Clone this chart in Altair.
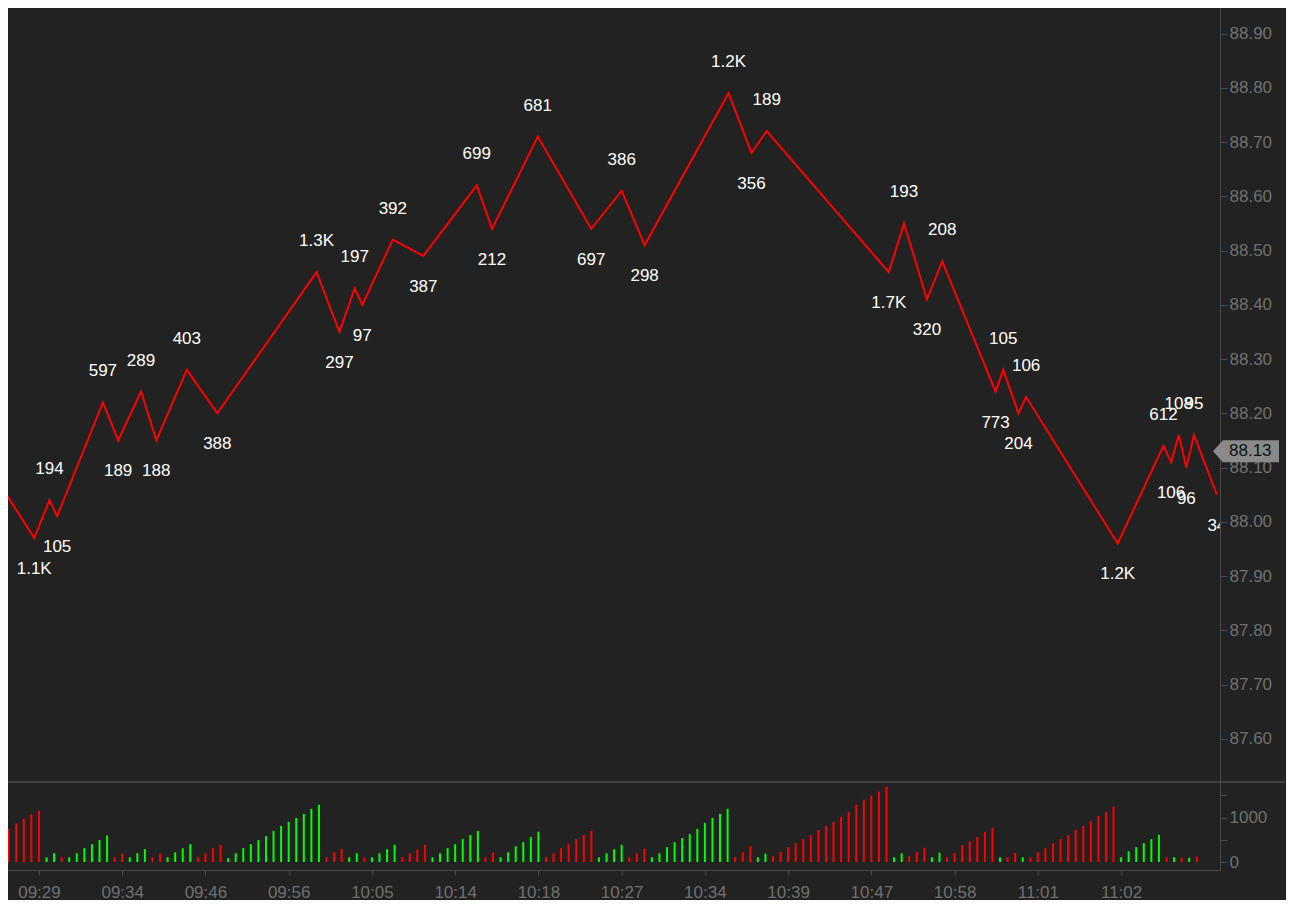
import altair as alt
import pandas as pd

# time labels under the volume panel, and the bar each one sits under
times = ['09:29', '09:34', '09:46', '09:56', '10:05', '10:14', '10:18',
         '10:27', '10:34', '10:39', '10:47', '10:58', '11:01', '11:02']
time_bars = [4, 15, 26, 37, 48, 59, 70, 81, 92, 103, 114, 125, 136, 147]

# zigzag: the line comes in from the left, then turns at these bars
start_bar = -1
start_price = 88.08
pivot_bar = [4, 6, 7, 13, 15, 18, 20, 24, 28, 41, 44, 46, 47, 51, 55, 62, 64,
             70, 77, 81, 84, 95, 98, 100, 116, 118, 121, 123, 130, 131, 133,
             134, 146, 152, 153, 154, 155, 156, 159]
pivot_price = [87.97, 88.04, 88.01, 88.22, 88.15, 88.24, 88.15, 88.28, 88.20,
               88.46, 88.35, 88.43, 88.40, 88.52, 88.49, 88.62, 88.54, 88.71,
               88.54, 88.61, 88.51, 88.79, 88.68, 88.72, 88.46, 88.55, 88.41,
               88.48, 88.24, 88.28, 88.20, 88.23, 87.96, 88.14, 88.11, 88.16,
               88.10, 88.16, 88.05]
pivot_label = ['1.1K', '194', '105', '597', '189', '289', '188', '403', '388',
               '1.3K', '297', '197', '97', '392', '387', '699', '212', '681',
               '697', '386', '298', '1.2K', '356', '189', '1.7K', '193', '320',
               '208', '773', '105', '204', '106', '1.2K', '612', '106', '108',
               '96', '95', '34']

# volume bars: running volume of the swing each bar belongs to
volume = [743, 864, 970, 1068, 1152,
          106, 197,
          105,
          106, 197, 311, 402, 492, 597,
          106, 189,
          106, 197, 289,
          106, 188,
          106, 220, 311, 403,
          106, 197, 311, 388,
          83, 197, 311, 402, 492, 583, 697, 811, 902, 992, 1083, 1197, 1288,
          106, 220, 297,
          106, 197,
          97,
          106, 197, 288, 392,
          106, 197, 288, 387,
          106, 197, 311, 402, 515, 606, 699,
          106, 212,
          106, 220, 356, 447, 561, 681,
          106, 197, 311, 402, 515, 606, 697,
          106, 197, 288, 386,
          106, 197, 298,
          106, 197, 333, 447, 538, 629, 742, 879, 992, 1083, 1197,
          106, 220, 356,
          106, 189,
          129, 220, 333, 424, 515, 606, 720, 811, 902, 1015, 1129, 1288, 1402,
          1492, 1583, 1697,
          106, 193,
          129, 220, 320,
          106, 208,
          106, 197, 379, 470, 561, 674, 773,
          105,
          106, 204,
          106,
          106, 220, 311, 424, 515, 606, 720, 811, 924, 1038, 1129, 1242,
          106, 242, 333, 424, 515, 612,
          106,
          108,
          96,
          95,
          125]

price_ticks = [87.60, 87.70, 87.80, 87.90, 88.00, 88.10, 88.20, 88.30, 88.40,
               88.50, 88.60, 88.70, 88.80, 88.90]
volume_ticks = [0, 500, 1000, 1500]
last_price = 88.13

# build tables
line_df = pd.DataFrame({'i': [start_bar] + pivot_bar,
                        'price': [start_price] + pivot_price})
kinds = []
prev = start_price
for p in pivot_price:
    kinds.append('peak' if p > prev else 'trough')
    prev = p
lab_df = pd.DataFrame({'i': pivot_bar, 'price': pivot_price,
                       'label': pivot_label, 'kind': kinds})

dirs = []
for i in range(len(volume)):
    k = next(n for n, b in enumerate(pivot_bar) if b >= i)
    dirs.append('up' if kinds[k] == 'peak' else 'down')
bar_df = pd.DataFrame({'i': list(range(len(volume))), 'vol': volume, 'dir': dirs})

FONT = 'Liberation Sans'
GRID = '#4a4a4a'
LABEL = '#707070'
W = 1219

xscale = alt.Scale(domain=[-0.354, 159.41], nice=False, zero=False)
pscale = alt.Scale(domain=[87.5203, 88.9618], nice=False, zero=False)
vscale = alt.Scale(domain=[-180, 1800], nice=False, zero=False)

right_axis = dict(orient='right', domainColor=GRID, tickColor=GRID, tickSize=7,
                  labelColor=LABEL, labelFontSize=17, labelFont=FONT,
                  labelPadding=2, grid=False, labelOverlap=False)

# price panel
line = alt.Chart(line_df).mark_line(color='#ff0000', strokeWidth=2, clip=True).encode(
    x=alt.X('i:Q', scale=xscale, axis=None),
    y=alt.Y('price:Q', scale=pscale, title='',
            axis=alt.Axis(values=price_ticks, format='.2f', **right_axis))
)
peaks = alt.Chart(lab_df).transform_filter("datum.kind == 'peak'").mark_text(
    dy=-31, color='white', fontSize=17, font=FONT, clip=True
).encode(x=alt.X('i:Q', scale=xscale), y=alt.Y('price:Q', scale=pscale), text='label:N')
troughs = alt.Chart(lab_df).transform_filter("datum.kind == 'trough'").mark_text(
    dy=31, color='white', fontSize=17, font=FONT, clip=True
).encode(x=alt.X('i:Q', scale=xscale), y=alt.Y('price:Q', scale=pscale), text='label:N')

# last price tag on the price axis
tag_df = pd.DataFrame({'price': [last_price], 'label': [f'{last_price:.2f}']})
tag_box = alt.Chart(tag_df).mark_point(
    shape='M-1,0L-0.7,-0.333L1,-0.333L1,0.333L-0.7,0.333Z', filled=True,
    fill='#8a8a8a', strokeWidth=0, opacity=1, size=66 * 66, clip=False
).encode(x=alt.value(1245), y=alt.Y('price:Q', scale=pscale))
tag_text = alt.Chart(tag_df).mark_text(
    align='left', color='#111111', fontSize=17, font=FONT, clip=False
).encode(x=alt.value(1228), y=alt.Y('price:Q', scale=pscale), text='label:N')

price_panel = alt.layer(line, peaks, troughs, tag_box, tag_text).properties(width=W, height=782)

# volume panel
idx_js = '[' + ','.join(str(b) for b in time_bars) + ']'
lab_js = '[' + ','.join(f"'{t}'" for t in times) + ']'
bars = alt.Chart(bar_df).mark_bar(size=2).encode(
    x=alt.X('i:Q', scale=xscale, title='',
            axis=alt.Axis(values=time_bars, labelExpr=f'{lab_js}[indexof({idx_js}, datum.value)]',
                          domainColor=GRID, tickColor=GRID, tickSize=5, labelColor=LABEL,
                          labelFontSize=17, labelFont=FONT, labelPadding=9, grid=False,
                          labelFlush=False, labelOverlap=False)),
    y=alt.Y('vol:Q', scale=vscale, title='',
            axis=alt.Axis(values=volume_ticks,
                          labelExpr="datum.value % 1000 == 0 ? datum.label : ''",
                          format='d', **right_axis)),
    y2=alt.datum(0),
    color=alt.Color('dir:N', scale=alt.Scale(domain=['up', 'down'], range=['#00ff00', '#ff0000']),
                    legend=None)
)
sep = alt.Chart(pd.DataFrame({'a': [0]})).mark_rule(color=GRID, strokeWidth=1.5, clip=False).encode(
    x=alt.value(0), x2=alt.value(1284), y=alt.value(0)
)
volume_panel = alt.layer(bars, sep).properties(width=W, height=88)

chart = alt.vconcat(price_panel, volume_panel, spacing=0, bounds='flush').configure(
    background='#222222',
    padding={'left': -8, 'top': -8, 'right': 0, 'bottom': 0}
).configure_view(strokeWidth=0)

chart.save("out.html", embed_options={"renderer": "svg", "actions": False})
